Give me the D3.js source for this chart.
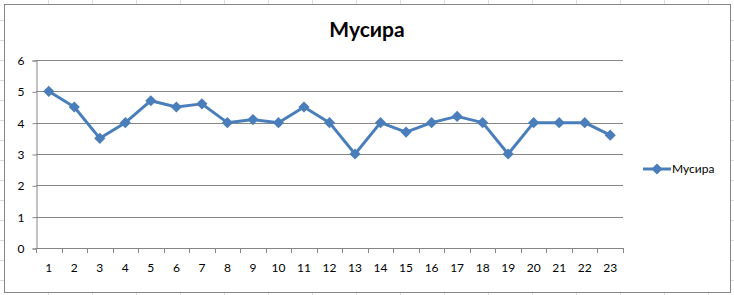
<!DOCTYPE html>
<html>
<head>
<meta charset="utf-8">
<script src="https://cdn.jsdelivr.net/npm/d3@7"></script>
<style>
  body { margin: 0; background: #fff; }
  svg { display: block; font-family: Lato, "Open Sans", sans-serif; }
</style>
</head>
<body>
<div id="chart"></div>
<script>
var width = 734;
var height = 295;

// chart data
var categories = ["1","2","3","4","5","6","7","8","9","10","11","12","13","14","15","16","17","18","19","20","21","22","23"];
var values = [5, 4.5, 3.5, 4, 4.7, 4.5, 4.6, 4, 4.1, 4, 4.5, 4, 3, 4, 3.7, 4, 4.2, 4, 3, 4, 4, 4, 3.6];
var yTicks = [0, 1, 2, 3, 4, 5, 6];
var seriesName = "Мусира";

var lineColor = "#4a7ebb";

var svg = d3.select("#chart")
  .append("svg")
  .attr("width", width)
  .attr("height", height);

// spreadsheet cells behind the chart
var cols = d3.range(48, width, 44);
var rows = d3.range(20, height, 20);
svg.selectAll("line.col").data(cols).enter().append("line")
  .attr("x1", d => d + 0.5).attr("x2", d => d + 0.5)
  .attr("y1", 0).attr("y2", height)
  .attr("stroke", "#dadcdd");
svg.selectAll("line.row").data(rows).enter().append("line")
  .attr("y1", d => d + 0.5).attr("y2", d => d + 0.5)
  .attr("x1", 0).attr("x2", width)
  .attr("stroke", "#dadcdd");

// chart frame
svg.append("rect")
  .attr("x", 4.5).attr("y", 4.5)
  .attr("width", 726).attr("height", 288)
  .attr("fill", "#fff")
  .attr("stroke", "#868686");

var margin = { left: 36, top: 60, right: 623, bottom: 248 };

var x = d3.scaleBand()
  .domain(categories)
  .range([margin.left, margin.right]);

var y = d3.scaleLinear()
  .domain([0, 6])
  .range([margin.bottom, margin.top]);

// gridlines
svg.append("g")
  .selectAll("line")
  .data(yTicks.slice(1))
  .enter().append("line")
  .attr("x1", margin.left).attr("x2", margin.right)
  .attr("y1", d => Math.round(y(d)) + 0.5)
  .attr("y2", d => Math.round(y(d)) + 0.5)
  .attr("stroke", "#868686");

// y axis
var yAxis = d3.axisLeft(y).tickValues(yTicks).tickSize(4).tickPadding(8).tickFormat(d3.format("d"));
var gy = svg.append("g")
  .attr("transform", "translate(" + (margin.left + 0.5) + ",0.5)")
  .call(yAxis);
gy.select(".domain").attr("stroke", "#868686");
gy.selectAll(".tick line").attr("stroke", "#868686");
gy.selectAll(".tick text").attr("font-size", 12).attr("fill", "#000")
  .attr("font-family", "Lato, sans-serif");

// x axis, ticks between categories
var xAxis = d3.axisBottom(x).tickSize(0).tickPadding(15);
var gx = svg.append("g")
  .attr("transform", "translate(0," + (margin.bottom + 0.5) + ")")
  .call(xAxis);
gx.select(".domain").remove();
gx.selectAll(".tick text").attr("font-size", 12).attr("fill", "#000")
  .attr("font-family", "Lato, sans-serif");
svg.append("line")
  .attr("x1", margin.left).attr("x2", margin.right)
  .attr("y1", margin.bottom + 0.5).attr("y2", margin.bottom + 0.5)
  .attr("stroke", "#868686");
var bounds = categories.map(c => x(c)).concat([x(categories[categories.length - 1]) + x.bandwidth()]);
svg.append("g").selectAll("line")
  .data(bounds)
  .enter().append("line")
  .attr("x1", d => Math.round(d) + 0.5).attr("x2", d => Math.round(d) + 0.5)
  .attr("y1", margin.bottom).attr("y2", margin.bottom + 5)
  .attr("stroke", "#868686");

// series line
var line = d3.line()
  .x((d, i) => x(categories[i]) + x.bandwidth() / 2)
  .y(d => y(d));

svg.append("path")
  .datum(values)
  .attr("d", line)
  .attr("fill", "none")
  .attr("stroke", lineColor)
  .attr("stroke-width", 3)
  .attr("stroke-linejoin", "round");

var diamond = d3.symbol().type(d3.symbolDiamond2).size(80);
svg.append("g").selectAll("path")
  .data(values)
  .enter().append("path")
  .attr("d", diamond)
  .attr("transform", (d, i) => "translate(" + (x(categories[i]) + x.bandwidth() / 2) + "," + y(d) + ")")
  .attr("fill", lineColor);

// title
svg.append("text")
  .attr("x", 367)
  .attr("y", 37)
  .attr("text-anchor", "middle")
  .attr("font-size", 21)
  .attr("font-weight", "bold")
  .attr("fill", "#000")
  .text(seriesName);

// legend
var legend = svg.append("g");
legend.append("line")
  .attr("x1", 643).attr("x2", 671)
  .attr("y1", 169).attr("y2", 169)
  .attr("stroke", lineColor)
  .attr("stroke-width", 3);
legend.append("path")
  .attr("d", diamond)
  .attr("transform", "translate(657,169)")
  .attr("fill", lineColor);
legend.append("text")
  .attr("x", 672)
  .attr("y", 173)
  .attr("font-size", 12)
  .attr("fill", "#000")
  .text(seriesName);
</script>
</body>
</html>
